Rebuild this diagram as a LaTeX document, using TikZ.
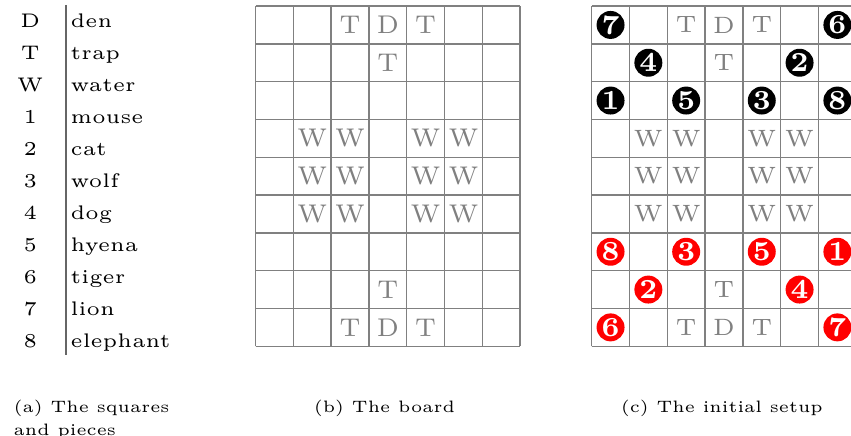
\documentclass[tikz,border=0pt]{standalone}
\usepackage{xcolor}
\usetikzlibrary{positioning}
\definecolor{redside}{RGB}{255,0,0}

\begin{document}
\begin{tikzpicture}[
    x=9.6pt, y=9.6pt,
    board/.style={draw=gray, line width=0.35pt},
    square/.style={text=gray, inner sep=0pt, font=\fontsize{#1}{8}\selectfont},
    piece/.style={circle, fill=#1, text=white, minimum size=7.1pt, inner sep=0pt, font=\fontsize{7}{8}\selectfont\bfseries},
    key/.style={anchor=base, inner sep=0pt, font=\fontsize{5}{6}\selectfont},
    caption/.style={anchor=north west, align=left, inner sep=0pt, font=\fontsize{4.2}{5.84}\selectfont},
]
    \useasboundingbox (0,0) rectangle (22.51,-11.53);

    % Key
    \foreach \sym/\name [count=\i from 0] in {D/den, T/trap, W/water, 1/mouse, 2/cat, 3/wolf, 4/dog, 5/hyena, 6/tiger, 7/lion, 8/elephant} {
        \node[key] (sym\i) at (0.8, -0.741-0.844*\i) {\sym};
        \node[key, anchor=base west] (name\i) at (1.85, -0.741-0.844*\i) {\name};
    }
    \coordinate (ruletop) at (1.746,-0.13);
    \coordinate (rulebot) at (1.746,-9.39);
    \draw[gray!80!black, line width=0.3pt] (ruletop) -- (rulebot);

    % The board
    \begin{scope}[shift={(6.76,-9.16)}]
        \draw[board, step=1] (0,0) grid (7,9);
        \foreach \c/\r/\t in {2/0/T, 3/0/D, 4/0/T, 3/1/T, 3/7/T, 2/8/T, 3/8/D, 4/8/T}
            \node[square=6.5] (b-\c-\r) at (\c+0.5, 8.5-\r) {\t};
        \foreach \c in {1,2,4,5}
            \foreach \r in {3,4,5}
                \node[square=6.5] (b-\c-\r) at (\c+0.5, 8.5-\r) {W};
    \end{scope}

    % The initial setup
    \begin{scope}[shift={(15.65,-9.16)}]
        \draw[board, step=1] (0,0) grid (7,9);
        \foreach \c/\r/\t in {2/0/T, 3/0/D, 4/0/T, 3/1/T, 3/7/T, 2/8/T, 3/8/D, 4/8/T}
            \node[square=6] (c-\c-\r) at (\c+0.5, 8.5-\r) {\t};
        \foreach \c in {1,2,4,5}
            \foreach \r in {3,4,5}
                \node[square=6] (c-\c-\r) at (\c+0.5, 8.5-\r) {W};
        % top side
        \foreach \n/\c/\r in {7/0/0, 6/6/0, 4/1/1, 2/5/1, 1/0/2, 5/2/2, 3/4/2, 8/6/2}
            \node[piece=black] (top\n) at (\c+0.5, 8.5-\r) {\n};
        % bottom side
        \foreach \n/\c/\r in {8/0/6, 3/2/6, 5/4/6, 1/6/6, 2/1/7, 4/5/7, 6/0/8, 7/6/8}
            \node[piece=redside] (bot\n) at (\c+0.5, 8.5-\r) {\n};
    \end{scope}

    % Captions
    \node[caption] (capa) at (0.34,-10.55) {(a) The squares\\and pieces};
    \node[caption] (capb) at (8.28,-10.55) {(b) The board};
    \node[caption] (capc) at (16.40,-10.55) {(c) The initial setup};

\end{tikzpicture}
\end{document}
